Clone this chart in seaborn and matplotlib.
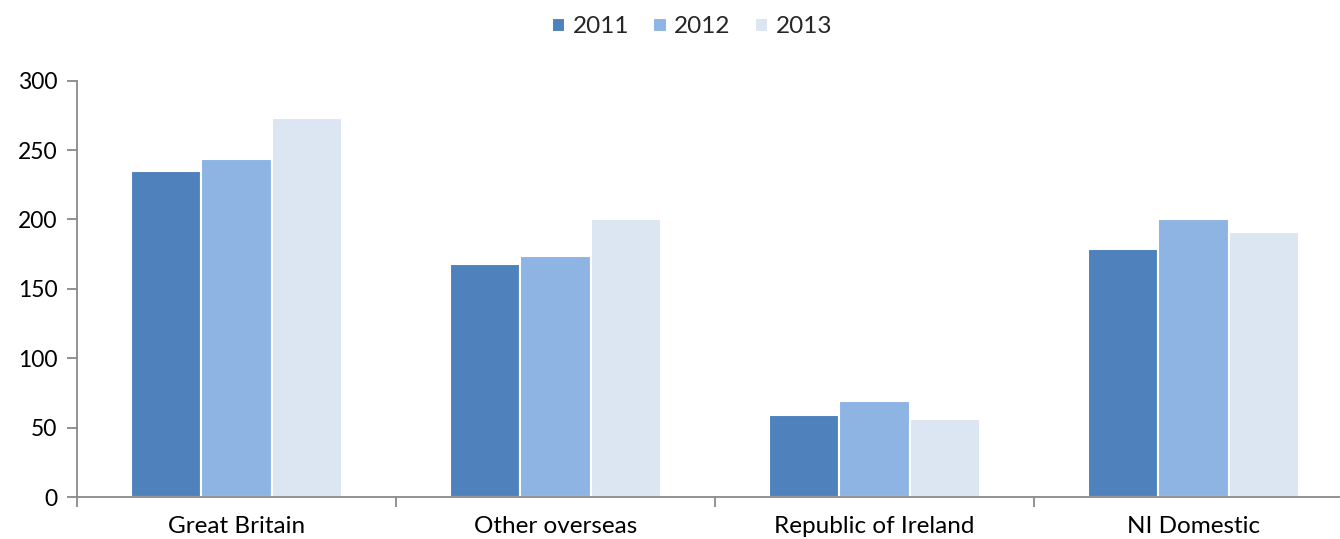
import matplotlib
matplotlib.use("Agg")
import matplotlib.pyplot as plt
import seaborn as sns
import pandas as pd
import numpy as np
from matplotlib.ticker import FixedLocator

categories = ["Great Britain", "Other overseas", "Republic of Ireland", "NI Domestic"]
years = ["2011", "2012", "2013"]
values_2011 = [235, 168, 59, 178.5]
values_2012 = [243.5, 174, 69, 200.5]
values_2013 = [273, 200, 56.5, 191]
colors = ["#4F81BD", "#8EB4E3", "#DCE6F2"]
yticks = [0, 50, 100, 150, 200, 250, 300]

df = pd.DataFrame({
    "category": categories * 3,
    "year": [years[0]] * 4 + [years[1]] * 4 + [years[2]] * 4,
    "value": values_2011 + values_2012 + values_2013,
})

sns.set_theme(style="white")
plt.rcParams["font.family"] = ["Lato", "DejaVu Sans"]

fig = plt.figure(figsize=(13.4, 5.39), dpi=100)
ax = fig.add_axes([77 / 1340, 1 - 497 / 539, (1353 - 77) / 1340, (497 - 80.7) / 539])

sns.barplot(data=df, x="category", y="value", hue="year", order=categories,
            hue_order=years, palette=colors, width=0.66, edgecolor="white",
            linewidth=1.5, saturation=1, ax=ax, legend=True)

ax.set_ylim(0, 300)
ax.set_xlim(-0.5, len(categories) - 0.5)
ax.set_yticks(yticks)
ax.set_yticklabels([str(t) for t in yticks], fontsize=16.5, color="black")
ax.set_xlabel("")
ax.set_ylabel("")

ax.tick_params(axis="x", which="major", length=0, pad=14, labelsize=17.5, labelcolor="black")
ax.xaxis.set_minor_locator(FixedLocator(np.arange(-0.5, len(categories), 1.0)))
ax.tick_params(axis="x", which="minor", length=7, width=1.3, color="#898989", direction="out", bottom=True)
ax.tick_params(axis="y", which="major", length=7, width=1.3, color="#898989", direction="out", left=True, pad=7)

for s in ["top", "right"]:
    ax.spines[s].set_visible(False)
for s in ["left", "bottom"]:
    ax.spines[s].set_color("#898989")
    ax.spines[s].set_linewidth(1.3)

handles, labels = ax.get_legend_handles_labels()
ax.legend(handles, labels, loc="center", bbox_to_anchor=(692 / 1340, 1 - 27 / 539),
          bbox_transform=fig.transFigure, ncol=3, frameon=False, fontsize=17.5,
          handlelength=0.55, handleheight=0.55, handletextpad=0.3, columnspacing=1.0)

fig.savefig("out.png", dpi=100)
